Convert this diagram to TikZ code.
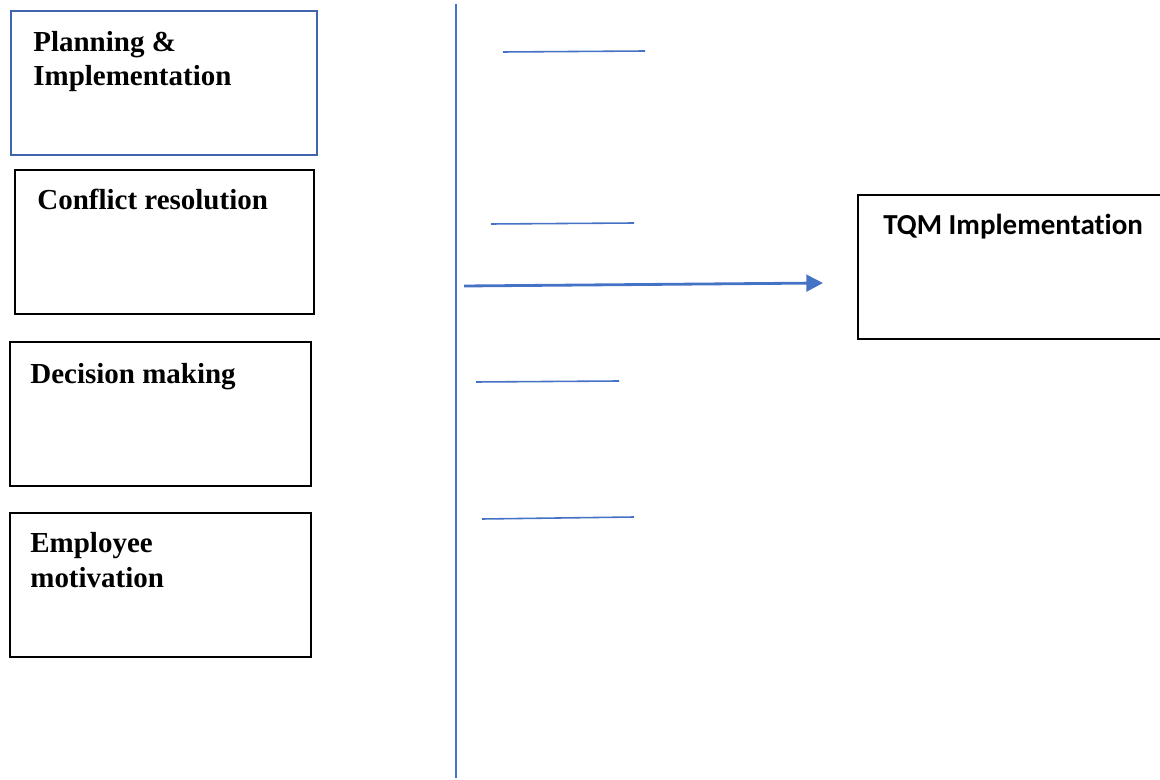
\documentclass[tikz,border=0pt]{standalone}
\usepackage{fontspec}
\setmainfont{Liberation Serif}
\newfontfamily\calibrifont[Ligatures=NoCommon]{Carlito}
\usetikzlibrary{positioning}
\usetikzlibrary{arrows.meta}
\definecolor{lineblue}{HTML}{4472C4}
\definecolor{frameblue}{HTML}{3E65AD}

\begin{document}
\begin{tikzpicture}[x=0.02cm, y=-0.02cm,
    factor/.style={draw, line width=1.1pt, inner sep=0pt, minimum height=2.88cm},
    factorlabel/.style={anchor=base west, inner sep=0pt, align=left,
        font=\fontsize{16.5}{19.4}\selectfont\bfseries},
    blank/.style={lineblue, line width=0.9pt}]
    \useasboundingbox (0,0) rectangle (1160,780);

    % Factors (left column)
    \node[factor, draw=frameblue, minimum width=6.12cm] (planning) at (164,83) {};
    \node[factorlabel] (planning-label) at (33,86) {Planning \&\\Implementation}; % base = last line

    \node[factor, minimum width=5.98cm] (conflict) at (164.5,242) {};
    \node[factorlabel] (conflict-label) at (37,210) {Conflict resolution};

    \node[factor, minimum width=6.02cm] (decision) at (160.5,414) {};
    \node[factorlabel] (decision-label) at (30,384) {Decision making};

    \node[factor, minimum width=6.02cm] (motivation) at (160.5,585) {};
    \node[factorlabel] (motivation-label) at (30,587) {Employee\\motivation};

    % Outcome (right, cut by the page edge)
    \node[factor, minimum width=6.1cm] (tqm) at (1010,267) {};
    \node[factorlabel, font=\fontsize{16.5}{18.7}\selectfont\calibrifont\bfseries]
        (tqm-label) at (883,235) {TQM Implementation};

    % Bracket line and blanks
    \draw[lineblue, line width=0.8pt] (456,4) -- (456,778);
    \draw[blank] (503,52) -- (645,51); % blank 1
    \draw[blank] (491,224) -- (634,223); % blank 2
    \draw[blank] (476,382) -- (619,381); % blank 3
    \draw[blank] (482,519) -- (634,517); % blank 4

    % Arrow to TQM
    \coordinate (arrow-start) at (464,286);
    \coordinate (arrow-end) at (823,283);
    \draw[lineblue, line width=1.6pt, -{Triangle[length=9.5pt,width=9.5pt]}] (arrow-start) -- (arrow-end);
\end{tikzpicture}
\end{document}
